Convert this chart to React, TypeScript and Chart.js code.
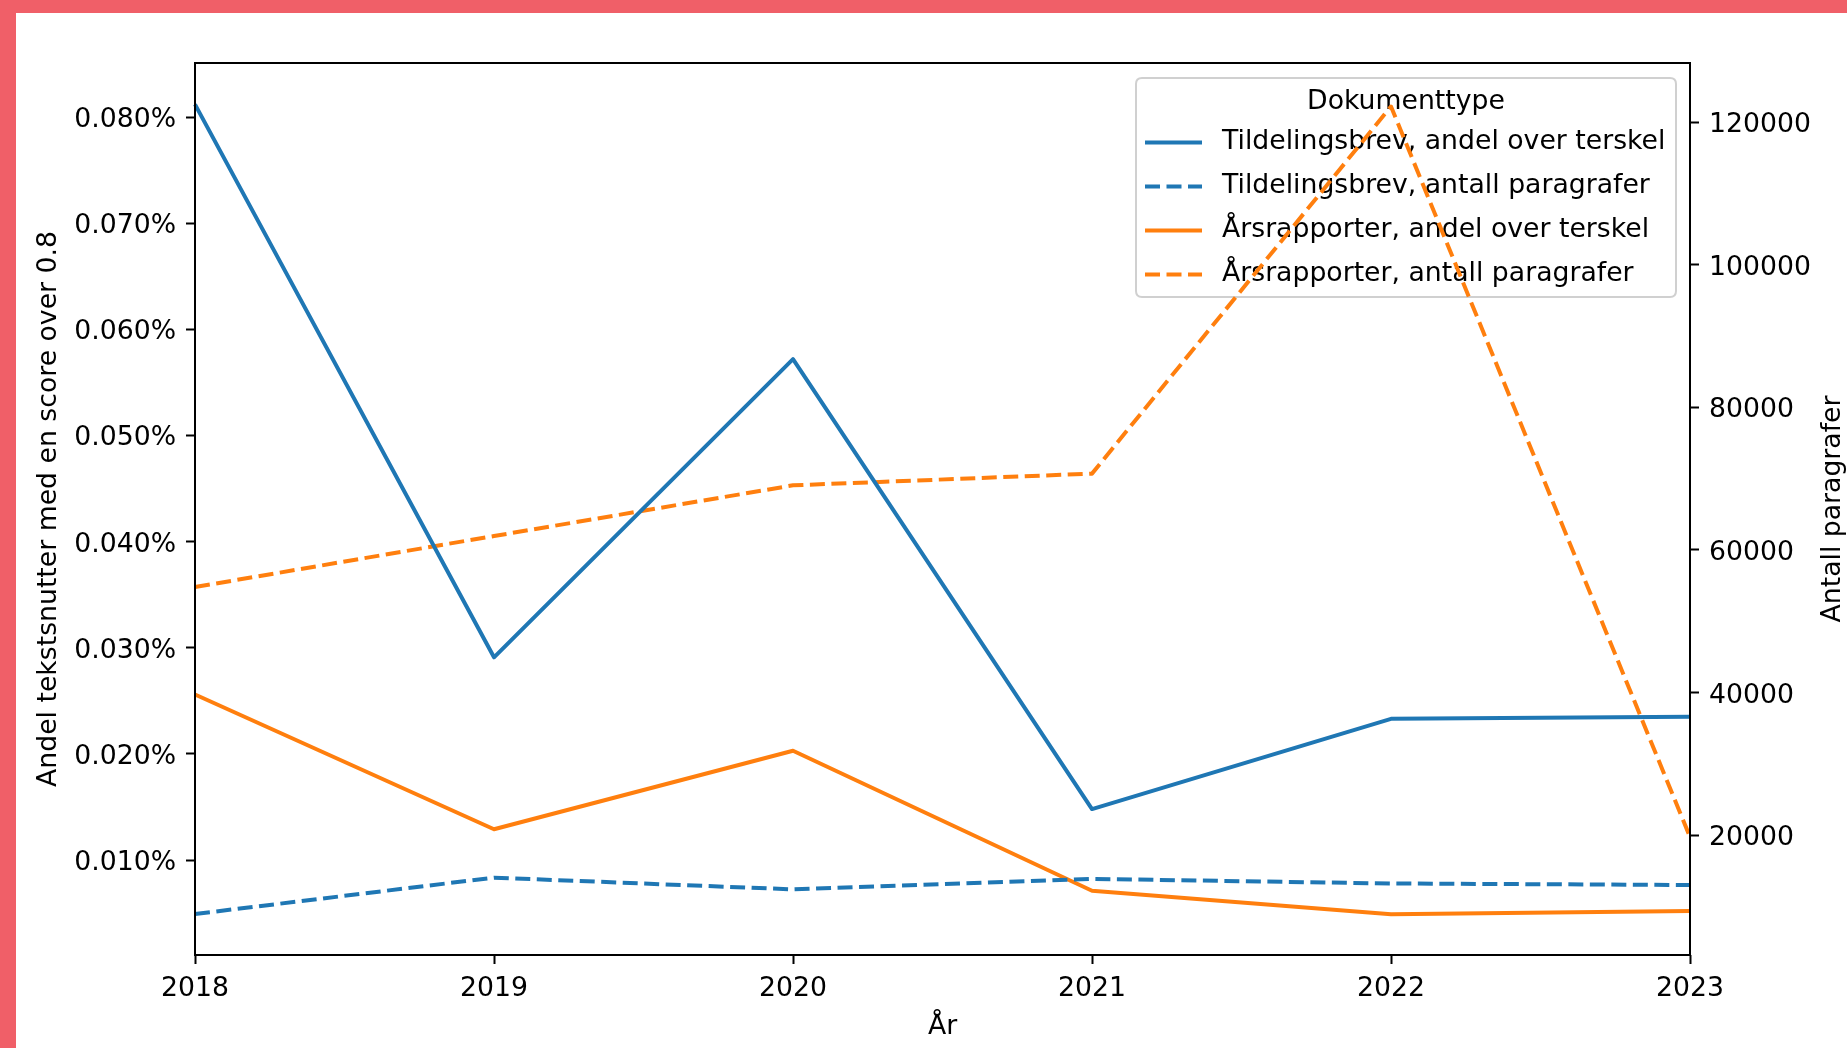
import React, { useEffect, useRef } from "react";
import { Chart, registerables } from "chart.js";

Chart.register(...registerables);

// ---- data ----
const years = ["2018", "2019", "2020", "2021", "2022", "2023"];
// left axis (percent units)
const tildelingAndel = [0.0812, 0.0291, 0.0572, 0.0148, 0.0233, 0.0235];
const arsrapportAndel = [0.0256, 0.0129, 0.0203, 0.0071, 0.0049, 0.0052];
// right axis (count)
const tildelingAntall = [8950, 14050, 12400, 13880, 13230, 13020];
const arsrapportAntall = [54800, 61960, 69070, 70710, 122200, 19750];

const leftTicks = [0.01, 0.02, 0.03, 0.04, 0.05, 0.06, 0.07, 0.08];
const rightTicks = [20000, 40000, 60000, 80000, 100000, 120000];

const seriesLabels = [
  "Tildelingsbrev, andel over terskel",
  "Tildelingsbrev, antall paragrafer",
  "Årsrapporter, andel over terskel",
  "Årsrapporter, antall paragrafer",
];
const legendTitle = "Dokumenttype";
const xTitle = "År";
const leftTitle = "Andel tekstsnutter med en score over 0.8";
const rightTitle = "Antall paragrafer";

const BLUE = "#1f77b4";
const ORANGE = "#ff7f0e";
const RED = "#f05f68";
const FONT = "'DejaVu Sans'";
const FS = 26.7;
const DASH = [15, 6.5];
const LW = 4;

const seriesColors = [BLUE, BLUE, ORANGE, ORANGE];
const seriesDashed = [false, true, false, true];

const decorPlugin = {
  id: "decor",
  beforeDatasetsDraw(chart: any) {
    const ctx = chart.ctx;
    // legend box
    const x0 = 1136, y0 = 78, x1 = 1676, y1 = 297, r = 6;
    ctx.save();
    ctx.beginPath();
    ctx.moveTo(x0 + r, y0);
    ctx.lineTo(x1 - r, y0);
    ctx.quadraticCurveTo(x1, y0, x1, y0 + r);
    ctx.lineTo(x1, y1 - r);
    ctx.quadraticCurveTo(x1, y1, x1 - r, y1);
    ctx.lineTo(x0 + r, y1);
    ctx.quadraticCurveTo(x0, y1, x0, y1 - r);
    ctx.lineTo(x0, y0 + r);
    ctx.quadraticCurveTo(x0, y0, x0 + r, y0);
    ctx.closePath();
    ctx.fillStyle = "rgba(255,255,255,0.8)";
    ctx.fill();
    ctx.strokeStyle = "#d0d0d0";
    ctx.lineWidth = 2;
    ctx.stroke();

    ctx.fillStyle = "#000";
    ctx.font = `${FS}px ${FONT}`;
    ctx.textBaseline = "middle";
    ctx.textAlign = "center";
    ctx.fillText(legendTitle, (x0 + x1) / 2, 102.5);
    ctx.textAlign = "left";
    seriesLabels.forEach((lab, i) => {
      const y = 142.5 + i * 44;
      ctx.beginPath();
      ctx.strokeStyle = seriesColors[i];
      ctx.lineWidth = LW;
      ctx.setLineDash(seriesDashed[i] ? DASH : []);
      ctx.moveTo(1145, y);
      ctx.lineTo(1202, y);
      ctx.stroke();
      ctx.setLineDash([]);
      ctx.fillStyle = "#000";
      ctx.fillText(lab, 1222, y);
    });
    ctx.restore();
  },
  afterDraw(chart: any) {
    const ctx = chart.ctx;
    const a = chart.chartArea;
    ctx.save();
    ctx.strokeStyle = "#000";
    ctx.lineWidth = 2;
    ctx.setLineDash([]);
    ctx.strokeRect(a.left, a.top, a.right - a.left, a.bottom - a.top);
    // right axis title (reads bottom-to-top)
    ctx.translate(1833, (a.top + a.bottom) / 2);
    ctx.rotate(-Math.PI / 2);
    ctx.fillStyle = "#000";
    ctx.font = `${FS}px ${FONT}`;
    ctx.textAlign = "center";
    ctx.textBaseline = "middle";
    ctx.fillText(rightTitle, 0, 0);
    ctx.restore();
  },
};

export default function App() {
  const ref = useRef<HTMLCanvasElement | null>(null);

  useEffect(() => {
    if (!ref.current) return;
    const mk = (i: number, data: number[], axis: string) => ({
      label: seriesLabels[i],
      data,
      yAxisID: axis,
      borderColor: seriesColors[i],
      backgroundColor: seriesColors[i],
      borderWidth: LW,
      borderDash: seriesDashed[i] ? DASH : [],
      borderJoinStyle: "round" as const,
      borderCapStyle: "butt" as const,
      pointRadius: 0,
      tension: 0,
      fill: false,
    });
    const tickFont = { family: FONT, size: FS };
    const chart = new Chart(ref.current, {
      type: "line",
      data: {
        labels: years,
        datasets: [
          mk(0, tildelingAndel, "y"),
          mk(1, tildelingAntall, "y2"),
          mk(2, arsrapportAndel, "y"),
          mk(3, arsrapportAntall, "y2"),
        ],
      },
      options: {
        responsive: false,
        devicePixelRatio: 1,
        animation: false,
        layout: { padding: { top: 63, left: 0, right: 0, bottom: 0 } },
        plugins: {
          legend: { display: false },
          tooltip: { enabled: false },
        },
        scales: {
          x: {
            type: "category",
            offset: false,
            position: "bottom",
            afterFit: (s: any) => {
              s.height = 93;
            },
            grid: {
              drawOnChartArea: false,
              drawTicks: true,
              tickLength: 9,
              tickColor: "#000",
              tickWidth: 2,
            },
            border: { display: false },
            ticks: {
              font: tickFont,
              color: "#000",
              padding: 9,
              maxRotation: 0,
              autoSkip: false,
            },
            title: {
              display: true,
              text: xTitle,
              font: tickFont,
              color: "#000",
              padding: { top: 0, bottom: 5 },
            },
          },
          y: {
            type: "linear",
            position: "left",
            min: 0.00105,
            max: 0.0851,
            afterFit: (s: any) => {
              s.width = 195;
            },
            afterBuildTicks: (s: any) => {
              s.ticks = leftTicks.map((v) => ({ value: v }));
            },
            grid: {
              drawOnChartArea: false,
              drawTicks: true,
              tickLength: 9,
              tickColor: "#000",
              tickWidth: 2,
            },
            border: { display: false },
            ticks: {
              font: tickFont,
              color: "#000",
              padding: 10,
              labelOffset: 3,
              callback: (v: any) => Number(v).toFixed(3) + "%",
            },
            title: {
              display: true,
              text: leftTitle,
              font: tickFont,
              color: "#000",
              padding: { top: 33, bottom: 0 },
            },
          },
          y2: {
            type: "linear",
            position: "right",
            min: 3200,
            max: 128300,
            afterFit: (s: any) => {
              s.width = 157;
            },
            afterBuildTicks: (s: any) => {
              s.ticks = rightTicks.map((v) => ({ value: v }));
            },
            grid: {
              drawOnChartArea: false,
              drawTicks: true,
              tickLength: 9,
              tickColor: "#000",
              tickWidth: 2,
            },
            border: { display: false },
            ticks: {
              font: tickFont,
              color: "#000",
              padding: 10,
              labelOffset: 3,
              callback: (v: any) => String(v),
            },
          },
        },
      },
      plugins: [decorPlugin],
    } as any);
    return () => chart.destroy();
  }, []);

  return (
    <div
      style={{
        position: "fixed",
        left: 0,
        top: 0,
        width: 1847,
        height: 1048,
        background: "#fff",
        overflow: "hidden",
      }}
    >
      <canvas
        ref={ref}
        width={1847}
        height={1048}
        style={{ position: "absolute", left: 0, top: 0, width: 1847, height: 1048 }}
      />
      <div style={{ position: "absolute", left: 0, top: 0, width: 1847, height: 13, background: RED }} />
      <div style={{ position: "absolute", left: 0, top: 0, width: 16, height: 1048, background: RED }} />
    </div>
  );
}
